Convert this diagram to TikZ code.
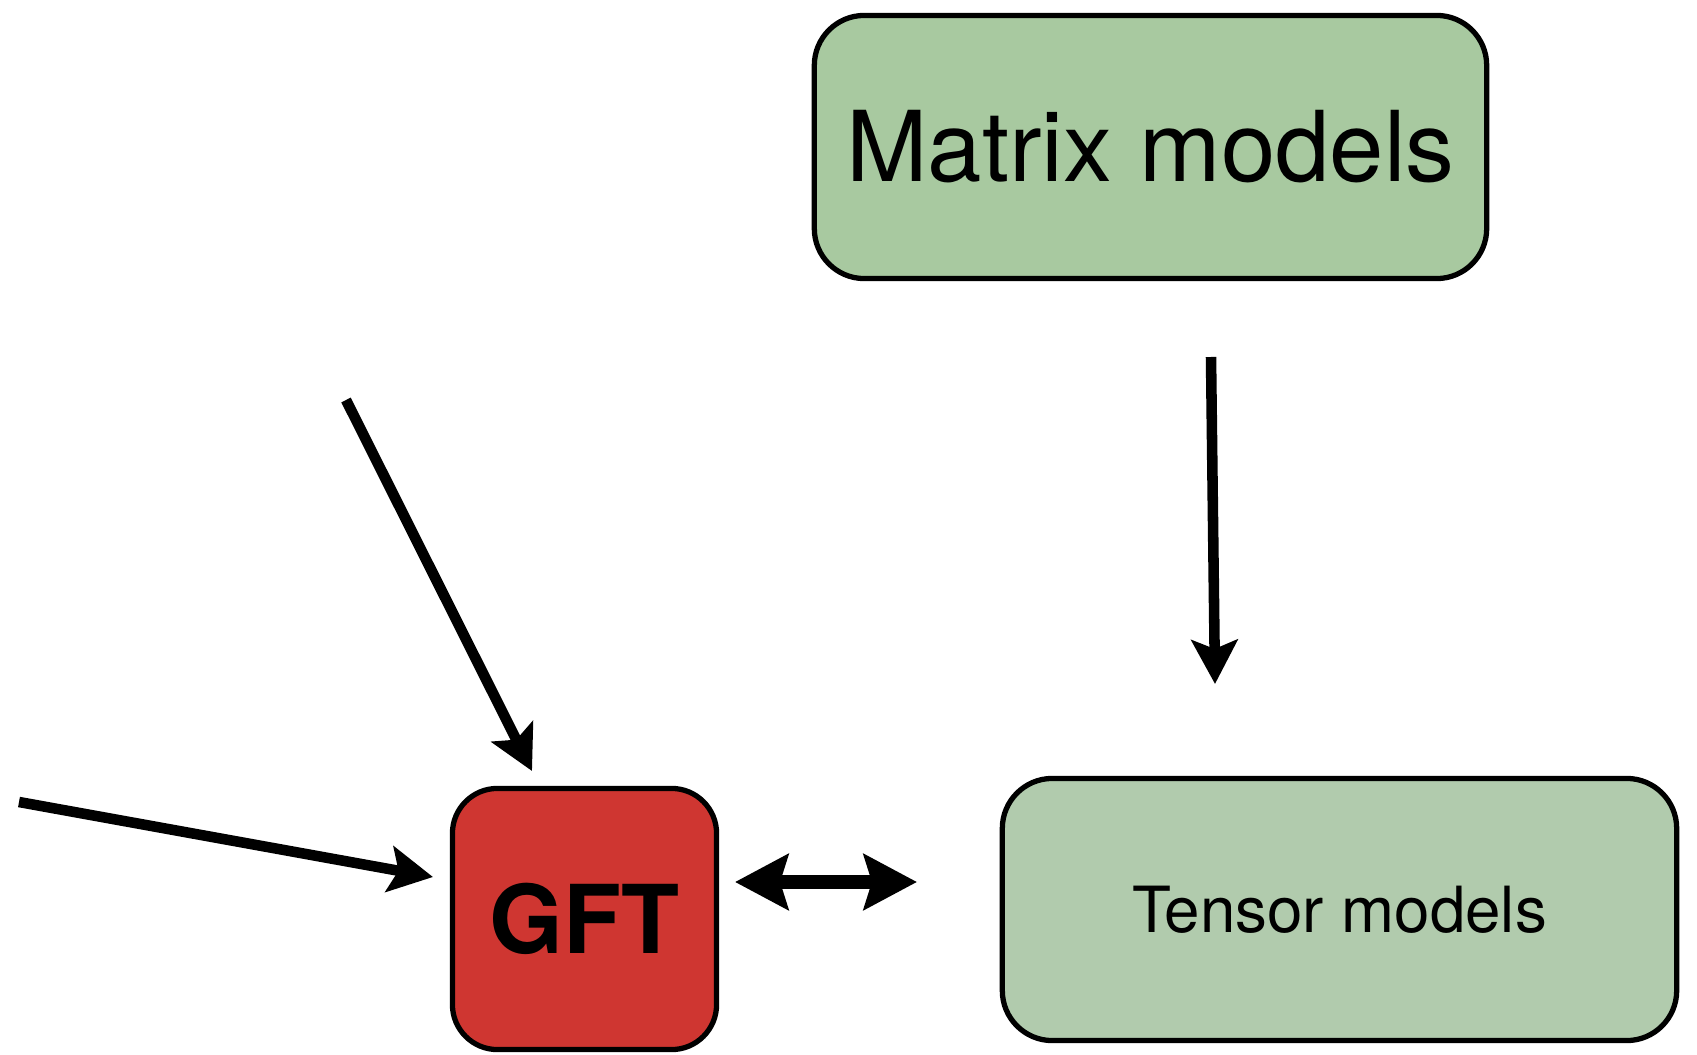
\documentclass[tikz,border=0pt]{standalone}
\usepackage{fontspec}
\setmainfont{TeX Gyre Heros}
\usepackage{xcolor}
\usepackage{tikz}
\usetikzlibrary{arrows.meta}
\definecolor{qgMatrix}{HTML}{A8C9A0}
\definecolor{qgTensor}{HTML}{B1CBAD}
\definecolor{qgRed}{HTML}{CF3631}
\tikzset{
  qg diagram/.style={x=0.01cm, y=-0.01cm},
  qg box/.style={draw=black, line width=1.5pt, rounded corners=0.5cm,
    align=center, inner sep=0pt},
  qg model box/.style={qg box, fill=qgMatrix,
    minimum width=6.72cm, minimum height=2.63cm},
  qg key box/.style={qg box, fill=qgRed, rounded corners=0.45cm,
    minimum width=2.64cm, minimum height=2.61cm},
  qg arrow/.style={-{Stealth[length=0.44cm, width=0.46cm, inset=0.09cm]},
    line width=3pt},
  qg link/.style={{Stealth[length=0.53cm, width=0.55cm, inset=0.08cm]}-{Stealth[length=0.53cm, width=0.55cm, inset=0.08cm]},
    line width=3.7pt}
}

\begin{document}
\begin{tikzpicture}[qg diagram]
\useasboundingbox (0,0) rectangle (1697,1055);
% the three boxes
\node[qg model box, font=\fontsize{27.8}{30}\selectfont] (matrix) at (1150.5,147) {Matrix models};
\node[qg model box, fill=qgTensor, minimum width=6.74cm, minimum height=2.62cm,
  font=\fontsize{18.1}{20}\selectfont] (tensor) at (1339.5,909.5) {Tensor models};
\node[qg key box, font=\fontsize{27}{30}\selectfont\bfseries] (gft) at (584.5,919) {GFT};
% free ends of the arrows
\coordinate (matrix out) at (1211,357);
\coordinate (tensor in) at (1215,684);
\coordinate (gft top) at (532,771);
\coordinate (top src) at (346,400);
\coordinate (gft left) at (433,877);
\coordinate (left src) at (19,802);
\coordinate (gft right) at (735,882);
\coordinate (tensor left) at (917,882);
% arrows
\draw[qg arrow] (matrix out) -- (tensor in);
\draw[qg arrow] (top src) -- (gft top);
\draw[qg arrow] (left src) -- (gft left);
\draw[qg link] (gft right) -- (tensor left);
\end{tikzpicture}
\end{document}
